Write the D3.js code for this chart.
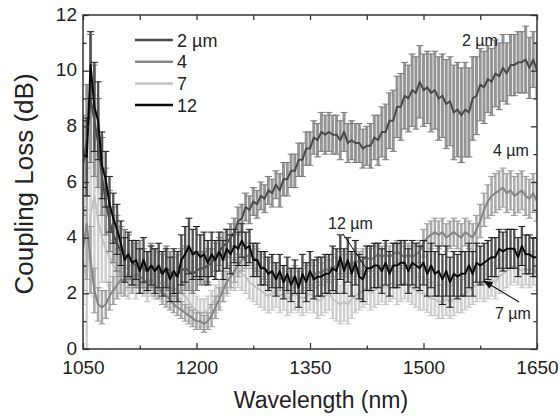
<!DOCTYPE html>
<html>
<head>
<meta charset="utf-8">
<script src="https://cdn.jsdelivr.net/npm/d3@7"></script>
<style>
body{margin:0;background:#fff;}
text{font-family:"Liberation Sans",Arial,Helvetica,sans-serif;fill:#222;}
</style>
</head>
<body>
<svg id="chart" width="560" height="419"></svg>
<script>
// sample grid, 5 nm steps
var wavelength = d3.range(1050, 1651, 5);

// 2 um
var loss2 = [6.6,7.5,9.0,8.2,7.4,6.2,5.3,4.6,4.1,3.8,
 3.5,3.4,3.3,3.1,3.0,3.1,2.9,2.8,3.0,2.9,
 2.8,2.7,2.9,2.8,2.6,2.7,2.8,2.9,2.8,2.7,
 2.8,2.9,2.9,3.0,3.1,3.3,3.5,3.7,3.8,4.0,
 4.2,4.6,4.7,5.1,5.0,5.3,5.2,5.5,5.4,5.7,
 5.6,5.9,5.7,6.1,6.1,6.4,6.4,6.8,6.8,7.2,
 7.2,7.6,7.5,7.8,7.7,7.8,7.7,7.7,7.5,7.8,
 7.4,7.5,7.4,7.4,7.2,7.3,7.3,7.6,7.5,7.8,
 7.8,8.2,8.2,8.7,8.7,9.1,9.0,9.3,9.2,9.6,
 9.3,9.4,9.2,9.3,9.0,9.1,8.8,8.9,8.5,8.6,
 8.4,8.6,8.5,9.0,9.1,9.5,9.4,9.7,9.6,9.9,
 9.8,10.1,9.9,10.2,10.2,10.3,10.3,10.4,10.1,10.4,10.0];
var err2 = [1.8,2.0,2.3,2.0,1.6,1.4,1.2,1.1,1.0,1.0,
 0.9,0.9,0.8,0.8,0.8,0.8,0.7,0.7,0.8,0.7,
 0.7,0.7,0.8,0.7,0.7,0.7,0.8,0.8,0.7,0.7,
 0.7,0.6,0.6,0.6,0.5,0.5,0.5,0.5,0.5,0.5,
 0.5,0.5,0.5,0.5,0.5,0.5,0.5,0.5,0.5,0.5,
 0.5,0.5,0.6,0.6,0.6,0.6,0.6,0.6,0.6,0.6,
 0.6,0.6,0.6,0.7,0.7,0.7,0.7,0.7,0.7,0.7,
 0.7,0.7,0.7,0.7,0.7,0.7,0.8,0.8,0.9,0.9,
 1.0,1.0,1.1,1.1,1.2,1.2,1.2,1.3,1.3,1.3,
 1.3,1.3,1.4,1.4,1.5,1.5,1.6,1.6,1.7,1.7,
 1.7,1.7,1.6,1.5,1.4,1.3,1.3,1.2,1.2,1.2,
 1.2,1.2,1.1,1.1,1.1,1.1,1.1,1.2,1.1,1.0,1.0];

// 4 um
var loss4 = [3.6,4.5,3.2,2.1,1.6,1.5,1.6,1.9,2.1,2.3,
 2.5,2.4,2.6,2.5,2.7,2.6,2.5,2.4,2.5,2.3,
 2.2,2.0,1.9,1.8,1.6,1.5,1.4,1.3,1.2,1.1,
 1.0,1.0,0.9,1.0,1.2,1.5,1.8,2.1,2.4,2.6,
 2.8,3.0,3.2,3.3,3.4,3.3,3.2,3.0,2.9,2.8,
 2.7,2.6,2.5,2.6,2.4,2.5,2.6,2.4,2.5,2.6,
 2.7,2.6,2.8,2.7,2.9,2.8,3.0,2.9,3.1,3.0,
 3.1,3.0,3.2,3.1,3.2,3.3,3.2,3.3,3.4,3.3,
 3.4,3.3,3.4,3.5,3.4,3.3,3.4,3.3,3.4,3.5,
 3.8,4.0,4.1,4.2,4.1,4.2,4.0,4.1,4.2,4.1,
 4.0,4.2,4.1,4.0,4.3,4.6,5.0,5.3,5.5,5.6,
 5.7,5.8,5.6,5.7,5.5,5.6,5.7,5.5,5.4,5.6,5.3];
var err4 = [1.5,2.0,1.2,0.8,0.6,0.6,0.5,0.5,0.5,0.5,
 0.5,0.5,0.4,0.5,0.4,0.4,0.5,0.4,0.4,0.4,
 0.4,0.4,0.4,0.4,0.3,0.3,0.3,0.3,0.3,0.3,
 0.3,0.3,0.3,0.3,0.4,0.4,0.4,0.4,0.4,0.4,
 0.4,0.4,0.4,0.4,0.4,0.4,0.4,0.4,0.4,0.4,
 0.4,0.4,0.4,0.4,0.4,0.4,0.4,0.4,0.4,0.4,
 0.4,0.4,0.4,0.4,0.4,0.4,0.4,0.4,0.4,0.4,
 0.4,0.4,0.4,0.4,0.4,0.4,0.4,0.4,0.4,0.4,
 0.4,0.4,0.4,0.4,0.4,0.4,0.4,0.4,0.4,0.4,
 0.5,0.5,0.5,0.5,0.5,0.5,0.5,0.5,0.5,0.5,
 0.5,0.5,0.5,0.5,0.5,0.6,0.6,0.6,0.7,0.7,
 0.7,0.7,0.7,0.7,0.7,0.7,0.7,0.7,0.7,0.7,0.7];

// 7 um
var loss7 = [3.2,2.5,4.8,5.5,4.6,4.0,3.6,3.3,3.0,2.8,
 2.6,2.8,2.5,2.7,2.4,2.6,2.5,2.3,2.5,2.4,
 2.4,2.3,2.2,2.3,2.1,2.2,2.0,1.9,1.7,1.5,
 1.4,1.3,1.3,1.4,1.6,1.8,2.0,2.2,2.4,2.6,
 2.7,2.8,2.7,2.6,2.4,2.3,2.2,2.1,2.0,1.9,
 2.0,2.1,1.9,2.0,1.8,1.9,2.0,1.9,1.8,1.9,
 2.0,1.9,1.7,1.8,1.9,2.0,1.8,1.7,1.6,1.7,
 1.6,1.8,1.9,2.0,2.1,2.2,2.0,2.1,2.2,2.3,
 2.2,2.3,2.4,2.2,2.3,2.4,2.3,2.2,2.1,2.0,
 2.0,1.9,1.8,1.8,1.7,1.7,1.8,1.7,1.8,1.9,
 1.9,2.0,2.1,2.2,2.3,2.4,2.3,2.4,2.5,2.4,
 2.6,2.7,2.8,2.9,3.0,2.9,2.8,2.9,2.8,2.9,2.7];
var err7 = [1.6,2.5,2.8,3.6,2.4,1.6,1.2,1.0,0.9,0.8,
 0.7,0.7,0.7,0.6,0.6,0.6,0.6,0.6,0.6,0.6,
 0.6,0.6,0.6,0.6,0.6,0.6,0.6,0.5,0.5,0.5,
 0.5,0.5,0.5,0.5,0.5,0.5,0.5,0.5,0.5,0.5,
 0.6,0.6,0.6,0.6,0.6,0.6,0.6,0.6,0.6,0.6,
 0.6,0.6,0.6,0.6,0.6,0.6,0.6,0.6,0.6,0.6,
 0.6,0.6,0.6,0.6,0.6,0.6,0.7,0.7,0.7,0.7,
 0.7,0.7,0.6,0.6,0.6,0.6,0.6,0.6,0.6,0.6,
 0.6,0.6,0.6,0.6,0.6,0.6,0.6,0.6,0.6,0.6,
 0.6,0.6,0.6,0.6,0.6,0.6,0.6,0.6,0.6,0.6,
 0.6,0.6,0.6,0.6,0.6,0.6,0.6,0.6,0.6,0.6,
 0.6,0.6,0.6,0.6,0.6,0.6,0.6,0.6,0.6,0.6,0.6];

// 12 um
var loss12 = [7.0,6.9,10.2,8.7,8.2,6.6,6.1,5.2,4.7,4.3,
 3.8,3.2,3.4,3.1,3.2,2.8,3.2,2.8,3.0,2.8,
 3.0,2.7,2.9,2.5,2.8,2.6,3.2,3.4,3.7,3.4,
 3.5,3.3,3.4,3.1,3.4,3.2,3.5,3.2,3.6,3.4,
 3.7,3.6,3.9,3.6,3.7,3.2,3.2,2.9,2.9,2.7,
 2.8,2.5,2.8,2.4,2.7,2.3,2.6,2.2,2.7,2.4,
 2.8,2.5,2.6,2.6,2.7,2.7,2.9,2.8,3.3,2.8,
 3.2,2.7,3.1,2.6,2.5,2.9,2.9,3.0,3.0,2.8,
 3.1,2.7,3.0,3.0,3.1,3.1,2.8,3.1,3.0,2.9,
 3.1,2.7,3.0,2.7,2.8,2.5,2.8,2.4,2.7,2.6,
 2.7,2.7,3.0,2.7,3.1,3.0,3.1,3.2,3.3,3.3,
 3.6,3.5,3.6,3.6,3.6,3.3,3.7,3.4,3.4,3.3,3.3];
var err12 = [1.2,1.4,1.2,1.6,1.4,1.2,1.0,1.0,0.9,0.9,
 0.8,0.8,0.8,0.8,0.7,0.8,0.8,0.7,0.7,0.8,
 0.8,0.8,0.7,0.8,0.8,0.9,0.9,1.0,1.0,0.9,
 0.9,0.8,0.8,0.8,0.8,0.7,0.7,0.7,0.7,0.7,
 0.6,0.6,0.6,0.6,0.6,0.6,0.6,0.6,0.6,0.6,
 0.6,0.6,0.6,0.6,0.6,0.6,0.6,0.7,0.7,0.7,
 0.7,0.7,0.7,0.7,0.7,0.7,0.8,0.8,0.8,0.8,
 0.8,0.8,0.8,0.8,0.8,0.8,0.8,0.8,0.8,0.8,
 0.8,0.8,0.8,0.8,0.8,0.8,0.8,0.8,0.8,0.8,
 0.8,0.8,0.8,0.8,0.9,0.9,0.9,0.9,0.8,0.8,
 0.8,0.8,0.8,0.8,0.7,0.7,0.7,0.7,0.7,0.7,
 0.7,0.7,0.7,0.7,0.7,0.7,0.7,0.7,0.7,0.7,0.7];

var xTicks = [1050, 1200, 1350, 1500, 1650];
var yTicks = [0, 2, 4, 6, 8, 10, 12];
var legendNames = ["2 µm", "4", "7", "12"];

var margin = {left: 83, top: 15};
var w = 454, h = 334;

var svg = d3.select("#chart");
var g = svg.append("g").attr("transform", "translate(" + margin.left + "," + margin.top + ")");

var x = d3.scaleLinear().domain([1050, 1650]).range([0, w]);
var y = d3.scaleLinear().domain([0, 12]).range([h, 0]);

g.append("clipPath").attr("id", "plotclip")
    .append("rect").attr("width", w).attr("height", h);

// series, in drawing order
var series = [
    {name: "7",  v: loss7,  e: err7,  line: "#c2c2c2", bar: "#d0d0d0", cap: "#c4c4c4", bw: 2.6, lw: 2},
    {name: "4",  v: loss4,  e: err4,  line: "#858585", bar: "#ababab", cap: "#999999", bw: 2.6, lw: 2},
    {name: "2",  v: loss2,  e: err2,  line: "#4a4a4a", bar: "#959595", cap: "#7a7a7a", bw: 3.0, lw: 2},
    {name: "12", v: loss12, e: err12, line: "#0a0a0a", bar: "#555555", cap: "#1a1a1a", bw: 2.4, lw: 2}
];

var plot = g.append("g").attr("clip-path", "url(#plotclip)");

series.forEach(function(s) {
    var pts = wavelength.map(function(wl, i) { return {x: wl, v: s.v[i], e: s.e[i]}; });
    var sg = plot.append("g");
    sg.selectAll(".bar").data(pts).enter().append("line")
        .attr("x1", function(d){return x(d.x)}).attr("x2", function(d){return x(d.x)})
        .attr("y1", function(d){return y(d.v - d.e)}).attr("y2", function(d){return y(d.v + d.e)})
        .attr("stroke", s.bar).attr("stroke-width", s.bw);
    [-1, 1].forEach(function(sign) {
        sg.selectAll(".cap" + sign).data(pts).enter().append("line")
            .attr("x1", function(d){return x(d.x) - 3.5}).attr("x2", function(d){return x(d.x) + 3.5})
            .attr("y1", function(d){return y(d.v + sign * d.e)}).attr("y2", function(d){return y(d.v + sign * d.e)})
            .attr("stroke", s.cap).attr("stroke-width", 1);
    });
    sg.append("path").datum(pts)
        .attr("fill", "none").attr("stroke", s.line).attr("stroke-width", s.lw)
        .attr("stroke-linejoin", "round")
        .attr("d", d3.line().x(function(d){return x(d.x)}).y(function(d){return y(d.v)}));
});

// axes (ticks pointing inward)
function styleAxis(sel) {
    sel.select(".domain").remove();
    sel.selectAll("line").attr("stroke", "#333").attr("stroke-width", 1.3);
    sel.selectAll("text").style("font-size", "19px").attr("fill", "#222");
}
var xMinor = d3.range(1125, 1650, 150);
var yMinor = d3.range(1, 12, 2);

g.append("g").attr("transform", "translate(0," + h + ")")
    .call(d3.axisBottom(x).tickValues(xTicks).tickFormat(d3.format("d")).tickSizeInner(-6).tickSizeOuter(0).tickPadding(12))
    .call(styleAxis);
g.append("g").attr("transform", "translate(0," + h + ")")
    .call(d3.axisBottom(x).tickValues(xMinor).tickFormat("").tickSizeInner(-3.5).tickSizeOuter(0)).call(styleAxis);
g.append("g")
    .call(d3.axisTop(x).tickValues(xTicks.concat(xMinor)).tickFormat("").tickSizeInner(-5).tickSizeOuter(0)).call(styleAxis);

g.append("g")
    .call(d3.axisLeft(y).tickValues(yTicks).tickFormat(d3.format("d")).tickSizeInner(-6).tickSizeOuter(0).tickPadding(6))
    .call(styleAxis)
    .selectAll("text").attr("dy", "0.28em");
g.append("g")
    .call(d3.axisLeft(y).tickValues(yMinor).tickFormat("").tickSizeInner(-3.5).tickSizeOuter(0)).call(styleAxis);
g.append("g").attr("transform", "translate(" + w + ",0)")
    .call(d3.axisRight(y).tickValues(yTicks).tickFormat("").tickSizeInner(-6).tickSizeOuter(0)).call(styleAxis);
g.append("g").attr("transform", "translate(" + w + ",0)")
    .call(d3.axisRight(y).tickValues(yMinor).tickFormat("").tickSizeInner(-3.5).tickSizeOuter(0)).call(styleAxis);

g.append("rect").attr("width", w).attr("height", h)
    .attr("fill", "none").attr("stroke", "#333").attr("stroke-width", 1.5);

// axis titles
svg.append("text").attr("x", 321).attr("y", 408).attr("text-anchor", "middle")
    .style("font-size", "23px").text("Wavelength (nm)");
svg.append("text").attr("transform", "translate(33,184) rotate(-90)").attr("text-anchor", "middle")
    .style("font-size", "26px").text("Coupling Loss (dB)");

// legend
var legendColors = ["#4a4a4a", "#858585", "#c2c2c2", "#0a0a0a"];
var lg = svg.append("g").attr("transform", "translate(135,40)");
legendNames.forEach(function(n, i) {
    lg.append("line").attr("x1", 0).attr("x2", 38).attr("y1", i * 21.7).attr("y2", i * 21.7)
        .attr("stroke", legendColors[i]).attr("stroke-width", 2.5);
    lg.append("text").attr("x", 42).attr("y", i * 21.7 + 6.5).style("font-size", "18px").text(n);
});

// annotations
svg.append("defs").append("marker").attr("id", "arrow")
    .attr("viewBox", "0 0 10 10").attr("refX", 9).attr("refY", 5)
    .attr("markerWidth", 8).attr("markerHeight", 8).attr("orient", "auto")
    .append("path").attr("d", "M0,1 L10,5 L0,9 z").attr("fill", "#111");

function note(txt, tx, ty) {
    svg.append("text").attr("x", tx).attr("y", ty).style("font-size", "16px").text(txt);
}
note("2 µm", 462, 46);
note("4 µm", 493, 156);
note("12 µm", 328, 229);
note("7 µm", 495, 319);

svg.append("line").attr("x1", 343).attr("y1", 234).attr("x2", 366).attr("y2", 268)
    .attr("stroke", "#111").attr("stroke-width", 1);
svg.append("line").attr("x1", 519).attr("y1", 302).attr("x2", 484).attr("y2", 281)
    .attr("stroke", "#111").attr("stroke-width", 1.2).attr("marker-end", "url(#arrow)");
</script>
</body>
</html>
